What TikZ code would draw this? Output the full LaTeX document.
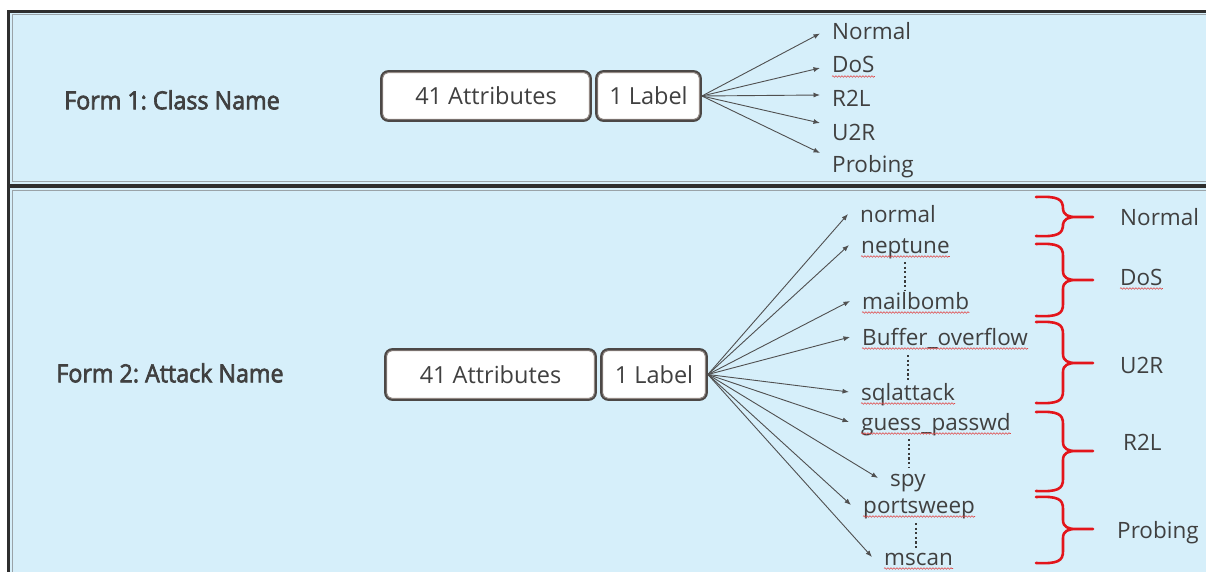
\documentclass[tikz,border=0pt]{standalone}
\usepackage{fontspec}
\setmainfont{Open Sans}
\newfontfamily\headfont[FakeBold=2.6,FakeStretch=0.93]{Open Sans}
\usetikzlibrary{arrows.meta,decorations.pathmorphing}
\frenchspacing

\definecolor{panelbg}{HTML}{D6EFFA}
\definecolor{frame}{HTML}{2E2E2E}
\definecolor{frameinner}{HTML}{9AA3A8}
\definecolor{boxedge}{HTML}{4C4846}
\definecolor{boxinner}{HTML}{948A85}
\definecolor{ink}{HTML}{404040}
\definecolor{arrowgray}{HTML}{505050}
\definecolor{bracered}{HTML}{E3151B}
\definecolor{squiggle}{HTML}{E04848}

\tikzset{
  panel/.style={draw=frame, line width=2.6pt, fill=panelbg},
  panelline/.style={draw=frameinner, line width=0.9pt},
  field/.style={draw=boxedge, line width=2.8pt, fill=white, rounded corners=7pt,
    text=ink, font=\fontsize{23.5}{27}\selectfont, inner sep=0pt, minimum height=49pt},
  fieldline/.style={draw=boxinner, line width=0.9pt, rounded corners=5pt},
  heading/.style={text=ink, font=\headfont\fontsize{25}{28}\selectfont},
  item/.style={anchor=west, inner xsep=12pt, inner ysep=0pt, text height=20pt,
    text depth=4pt, text=ink, font=\fontsize{22.5}{26}\selectfont},
  link/.style={draw=arrowgray, line width=0.9pt, -{Latex[length=6.5pt,width=5pt]}},
  ellipsis/.style={draw=ink!90!black, line width=2.4pt, dash pattern=on 2.2pt off 2.4pt},
  curl/.style={draw=bracered, line width=2.6pt, line cap=round, line join=round},
  spell/.style={draw=squiggle, line width=0.6pt, decorate,
    decoration={snake, amplitude=0.8pt, segment length=3pt}}
}

% red curly bracket: top, tip height, bottom
\newcommand\redcurl[3]{%
  \draw[curl] (1036,#1) .. controls (1058,#1-1) and (1063,#1+2) .. (1063,#1+12)
    -- (1063,#2-9) .. controls (1063,#2-2) and (1068,#2) .. (1076,#2) -- (1093,#2)
    (1076,#2) .. controls (1068,#2) and (1063,#2+2) .. (1063,#2+9)
    -- (1063,#3-12) .. controls (1063,#3-2) and (1058,#3+1) .. (1036,#3);}

% wavy spell-check underline below a label node
\newcommand\spellmark[1]{%
  \draw[spell] ([shift={(12,3.5)}]#1.base west) -- ([shift={(-12,3.5)}]#1.base east);}

% double outline inside a field box
\newcommand\fieldrim[1]{%
  \draw[fieldline] ([shift={(2.6,2.6)}]#1.north west) rectangle ([shift={(-2.6,-2.6)}]#1.south east);}

\begin{document}
\begin{tikzpicture}[x=1pt,y=-1pt]
\useasboundingbox (0,0) rectangle (1206,572);
\clip (0,0) rectangle (1206,572);
\fill[white] (0,0) rectangle (1206,572);

% panels
\path[panel] (8.7,11.3) rectangle (1220,184.8);
\path[panelline] (12,14.6) rectangle (1220,181.5);
\path[panel] (8.7,187) rectangle (1220,600);
\path[panelline] (12,190.3) rectangle (1220,600);

% ---------- Form 1 ----------
\node[heading] (f1) at (172,100) {Form 1: Class Name};
\node[field, minimum width=209pt] (attrA) at (486,96) {41 Attributes};
\node[field, minimum width=104pt] (labA) at (648.5,96) {1 Label};
\fieldrim{attrA}
\fieldrim{labA}

\node[item] (cn) at (820,31.5) {Normal};
\node[item] (cd) at (820,65) {DoS};
\node[item] (cr) at (820,99) {R2L};
\node[item] (cu) at (820,133) {U2R};
\node[item] (cp) at (820,165) {Probing};

\draw[link] (labA.east) -- ([shift={(0,2)}]cn.west);
\draw[link] (labA.east) -- ([shift={(0,3)}]cd.west);
\draw[link] (labA.east) -- ([shift={(0,-4)}]cr.west);
\draw[link] (labA.east) -- ([shift={(0,-10)}]cu.west);
\draw[link] (labA.east) -- ([shift={(0,-12)}]cp.west);
\spellmark{cd}

% ---------- Form 2 ----------
\node[heading] (f2) at (170,373) {Form 2: Attack Name};
\node[field, minimum width=210pt, minimum height=50pt] (attrB) at (490.5,374.5) {41 Attributes};
\node[field, minimum width=105pt, minimum height=50pt] (labB) at (654,374.5) {1 Label};
\fieldrim{attrB}
\fieldrim{labB}

\node[item] (an)  at (848,214) {normal};
\node[item] (ane) at (849,245) {neptune};
\node[item] (am)  at (850,301) {mailbomb};
\node[item] (ab)  at (850,337) {Buffer\_overflow};
\node[item] (asq) at (849,392) {sqlattack};
\node[item] (ag)  at (849,422) {guess\_passwd};
\node[item] (asp) at (878,478) {spy};
\node[item] (apo) at (851,505) {portsweep};
\node[item] (ams) at (872,557) {mscan};

\foreach \t in {an,ane,am,ab,asq,ag,asp,apo,ams}{
  \draw[link] (labB.east) -- (\t.west);
}

\draw[ellipsis] (905,262) -- (905,290);
\draw[ellipsis] (908,355) -- (908,382);
\draw[ellipsis] (909,439) -- (909,467);
\draw[ellipsis] (916,523) -- (916,550);

\foreach \t in {ane,am,ab,asq,ag,apo,ams}{
  \spellmark{\t}
}

% category brackets
\redcurl{197}{217}{236}
\redcurl{244}{280}{316}
\redcurl{322}{363}{403}
\redcurl{412}{451}{491}
\redcurl{497}{529}{563}

\node[item] (bn) at (1108,217) {Normal};
\node[item] (bd) at (1108,277) {DoS};
\node[item] (bu) at (1108,365) {U2R};
\node[item] (br) at (1111,442) {R2L};
\node[item] (bp) at (1105,530) {Probing};
\spellmark{bd}
\end{tikzpicture}
\end{document}
